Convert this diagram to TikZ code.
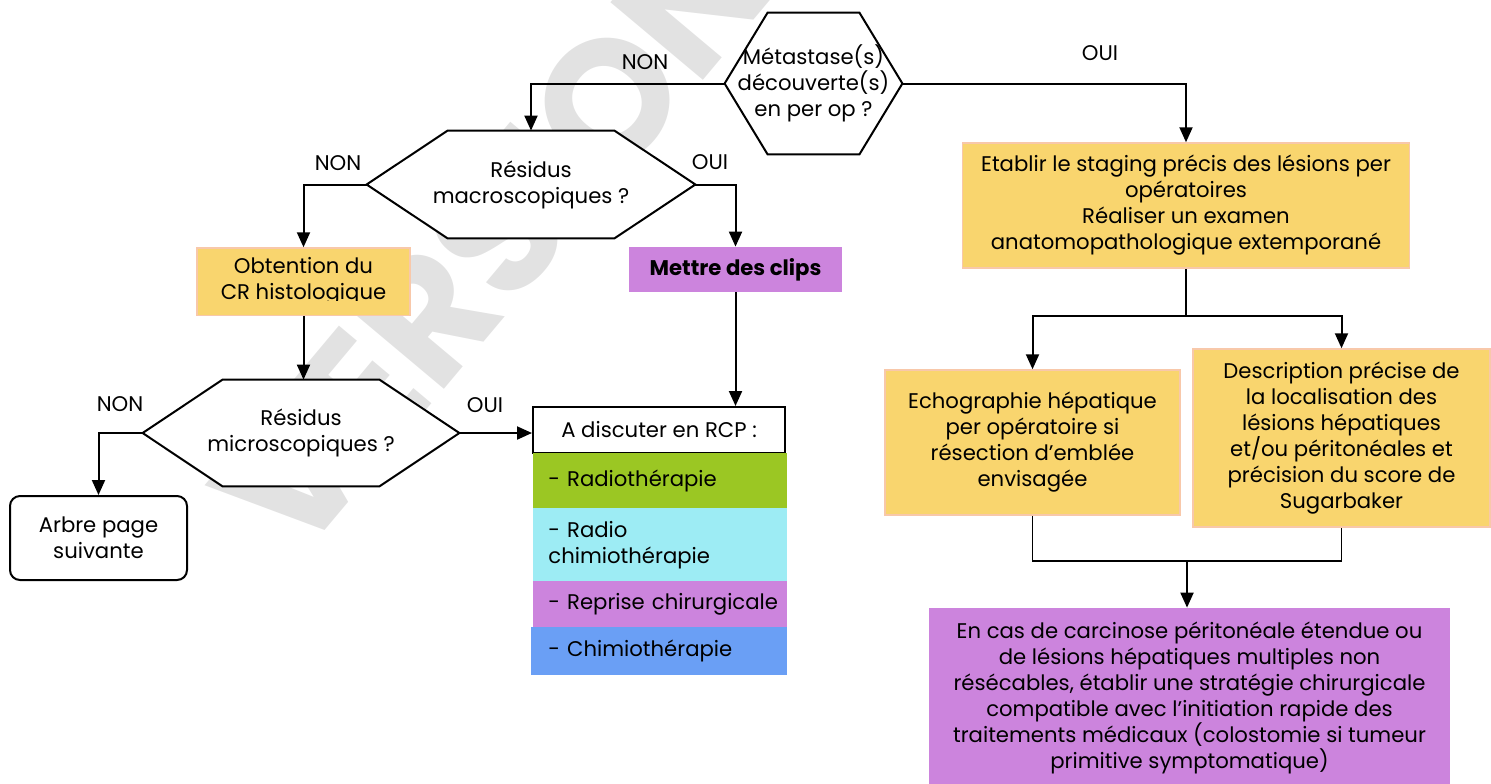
\documentclass[tikz,border=0pt]{standalone}
\usepackage{fontspec}
\setmainfont{Poppins}
\usetikzlibrary{arrows.meta}

\definecolor{jaune}{RGB}{249,213,110}
\definecolor{saumon}{RGB}{248,200,170}
\definecolor{violet}{RGB}{204,132,221}
\definecolor{vert}{RGB}{155,199,35}
\definecolor{turquoise}{RGB}{157,236,244}
\definecolor{bleu}{RGB}{106,159,245}
\definecolor{filigrane}{RGB}{226,226,226}

\pgfdeclarelayer{fond}
\pgfdeclarelayer{formes}
\pgfsetlayers{fond,formes,main}

% contour of a decision hexagon drawn round a named node
\newcommand{\contourhex}[2]{%
  \begin{pgfonlayer}{formes}
  \filldraw [fill=white,line width=1pt] (#1.west) -- ([xshift=#2]#1.north west) -- ([xshift=-#2]#1.north east) -- (#1.east) -- ([xshift=-#2]#1.south east) -- ([xshift=#2]#1.south west) -- cycle;
  \end{pgfonlayer}}
\newcommand{\retrait}{\hspace*{6pt}}

\begin{document}
\begin{tikzpicture}[x=0.5pt,y=0.5pt,yscale=-1,
        font=\fontsize{10.6}{13}\selectfont,
        fleche/.style={line width=1pt,-{Triangle[length=7.5pt,width=6.5pt]}},
        trait/.style={line width=0.75pt},
        hexa/.style={inner sep=0pt,align=center},
        jbox/.style={fill=jaune,draw=saumon,line width=0.75pt,inner sep=0pt,align=center},
        vbox/.style={fill=violet,inner sep=0pt,align=center},
        liste/.style={anchor=north west,inner xsep=1.5pt,inner ysep=0pt,text width=124pt,align=left},
        etiq/.style={inner sep=0pt}]
        \useasboundingbox (0,0) rectangle (1491,783);
        
        % Filigrane
        \begin{pgfonlayer}{fond}
        \node (filigrane) [rotate=50,text=filigrane,font=\fontsize{86}{86}\selectfont\bfseries] at (492,238) {VERSION};
        \end{pgfonlayer}
        
        %Shape: Hexagon [id:metastase]
        \node (metastase) [hexa,minimum width=88.5pt,minimum height=70.5pt] at (813.5,83.5) {Métastase(s)\\découverte(s)\\en per op ?};
        \contourhex{metastase}{21.5pt}
        %Shape: Hexagon [id:macro]
        \node (macro) [hexa,minimum width=164pt,minimum height=53.5pt] at (531,184.5) {Résidus\\macroscopiques ?};
        \contourhex{macro}{40.5pt}
        %Shape: Hexagon [id:micro]
        \node (micro) [hexa,minimum width=158pt,minimum height=53pt] at (301,433) {Résidus\\microscopiques ?};
        \contourhex{micro}{40pt}
        
        %Shape: Rectangle [id:obtention]
        \node (obtention) [jbox,minimum width=106.5pt,minimum height=33.5pt] at (303.5,281.5) {Obtention du\\CR histologique};
        % descenders hidden as in the original
        \fill [jaune] ([xshift=1pt,yshift=-0.4pt]obtention.south west) rectangle ([xshift=-1pt,yshift=-7.5pt]obtention.south east);
        %Shape: Rectangle [id:clips]
        \node (clips) [vbox,minimum width=106.5pt,minimum height=22.5pt,font=\fontsize{10.6}{13}\selectfont\bfseries] at (735.5,269.5) {Mettre des clips};
        %Shape: Rounded Rect [id:arbre]
        \node (arbre) [draw,line width=1pt,fill=white,rounded corners=5pt,minimum width=88.5pt,minimum height=42pt,inner sep=0pt,align=center] at (98.5,538) {Arbre page\\suivante};
        
        %Shape: Rectangle [id:rcp]
        \node (rcp) [draw,line width=1pt,fill=white,minimum width=126pt,minimum height=23pt,inner sep=0pt] at (659,430) {A discuter en RCP :};
        \node (radio) [liste,fill=vert,minimum height=27.5pt] at (533,453) {\retrait- Radiothérapie};
        \node (radiochimio) [liste,fill=turquoise,minimum height=36.5pt] at (533,508) {\retrait- Radio\\\retrait chimiothérapie};
        \node (reprise) [liste,fill=violet,minimum height=23pt] at (533,581) {\retrait- Reprise chirurgicale};
        \node (chimio) [liste,fill=bleu,minimum height=24pt,text width=125pt] at (531,627) {\hspace*{7pt}- Chimiothérapie};
        
        %Shape: Rectangle [id:staging]
        \node (staging) [jbox,minimum width=223.5pt,minimum height=62.5pt] at (1186,205.5) {Etablir le staging précis des lésions per\\opératoires\\Réaliser un examen\\anatomopathologique extemporané};
        %Shape: Rectangle [id:echo]
        \node (echo) [jbox,minimum width=147.5pt,minimum height=72.5pt] at (1032.5,442.5) {Echographie hépatique\\per opératoire si\\résection d’emblée\\envisagée};
        %Shape: Rectangle [id:desc]
        \node (desc) [jbox,minimum width=148.5pt,minimum height=89pt] at (1341.5,438) {Description précise de\\la localisation des\\lésions hépatiques\\et/ou péritonéales et\\précision du score de\\Sugarbaker};
        %Shape: Rectangle [id:strategie]
        \node (strategie) [vbox,minimum width=260.5pt,minimum height=90pt] at (1189.5,698) {En cas de carcinose péritonéale étendue ou\\de lésions hépatiques multiples non\\résécables, établir une stratégie chirurgicale\\compatible avec l’initiation rapide des\\traitements médicaux (colostomie si tumeur\\primitive symptomatique)};
        
        \coordinate (fourche) at (1186,316);
        \coordinate (jonction) at (1187,561);
        
        %Straight Lines
        \draw [fleche] (metastase.west) -| (macro.north);
        \draw [fleche] (metastase.east) -| (staging.north);
        \draw [fleche] (macro.west) -| (obtention.north);
        \draw [fleche] (macro.east) -| (clips.north);
        \draw [fleche] (obtention.south) -- (obtention.south |- micro.north);
        \draw [fleche] (clips.south) -- (clips.south |- rcp.north);
        \draw [fleche] (micro.east) -- (micro.east -| rcp.west);
        \draw [fleche] (micro.west) -| (arbre.north);
        \draw [trait] (staging.south) -- (fourche);
        \draw [fleche] (fourche) -| (echo.north);
        \draw [fleche] (fourche) -| (desc.north);
        \draw [trait] (echo.south) |- (jonction) -| (desc.south);
        \draw [fleche] (jonction) -- (jonction |- strategie.north);
        
        % Text Node
        \node (non1) [etiq] at (645,62) {NON};
        % Text Node
        \node (oui1) [etiq] at (1100,53) {OUI};
        % Text Node
        \node (non2) [etiq] at (338,163) {NON};
        % Text Node
        \node (oui2) [etiq] at (710,162) {OUI};
        % Text Node
        \node (non3) [etiq] at (120,404) {NON};
        % Text Node
        \node (oui3) [etiq] at (485,405) {OUI};
        
\end{tikzpicture}
\end{document}
